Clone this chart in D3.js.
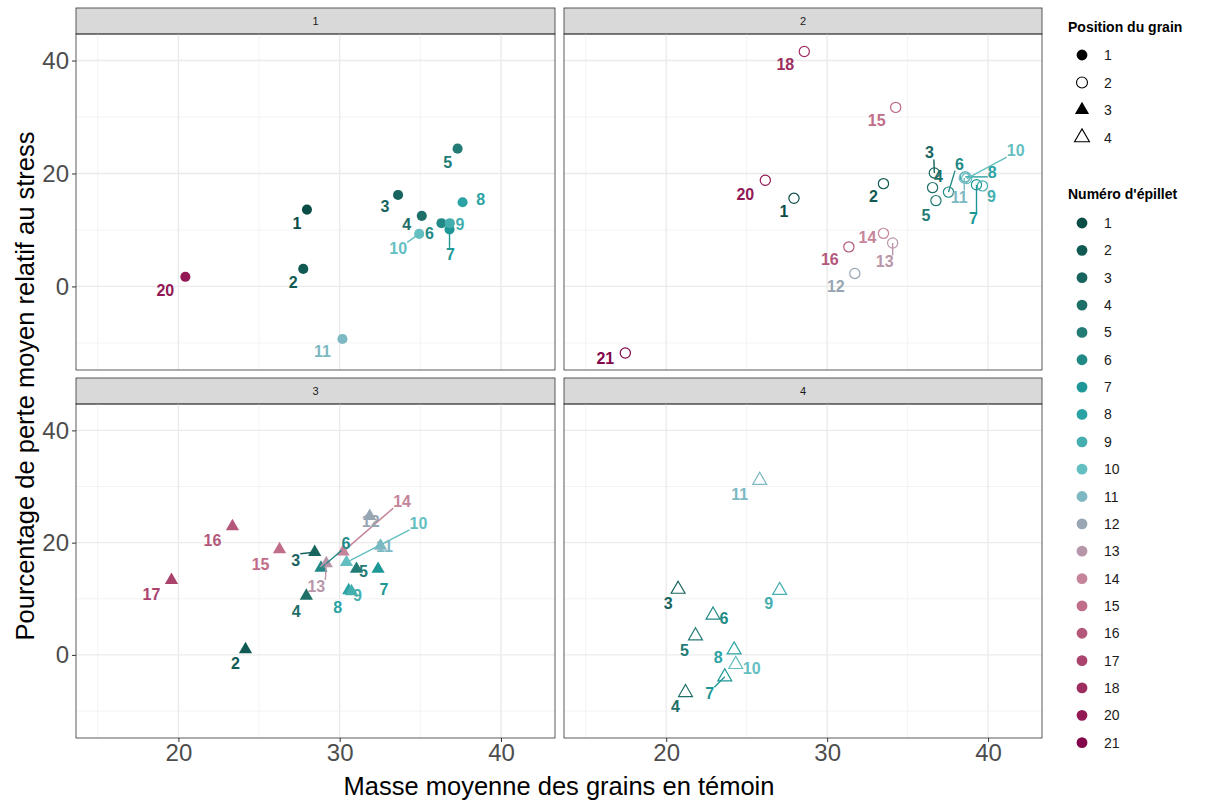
<!DOCTYPE html>
<html>
<head>
<meta charset="utf-8">
<script src="https://cdn.jsdelivr.net/npm/d3@7"></script>
<style>
  body { margin: 0; background: #fff; }
  text { font-family: "Liberation Sans", Arial, sans-serif; }
</style>
</head>
<body>
<svg id="chart" width="1205" height="800"></svg>
<script>
// ---- data ----
// grain position 1 (filled circles)
const spikelet1 = [1, 2, 3, 4, 5, 6, 7, 8, 9, 10, 11, 20]
const mass1 = [27.97, 27.74, 33.62, 35.09, 37.31, 36.31, 36.81, 37.62, 36.83, 34.93, 30.17, 20.43]
const loss1 = [13.6, 3.1, 16.2, 12.5, 24.4, 11.2, 10.1, 14.9, 11.2, 9.3, -9.3, 1.7]

// grain position 2 (open circles)
const spikelet2 = [1, 2, 3, 4, 5, 6, 7, 8, 9, 10, 11, 12, 13, 14, 15, 16, 18, 20, 21]
const mass2 = [27.94, 33.50, 36.66, 36.55, 36.76, 37.54, 39.28, 38.58, 39.65, 38.67, 38.52, 31.72, 34.07, 33.50, 34.26, 31.35, 28.58, 26.16, 17.46]
const loss2 = [15.6, 18.2, 20.1, 17.5, 15.2, 16.7, 18.0, 19.4, 17.8, 19.1, 19.2, 2.3, 7.7, 9.4, 31.7, 7.0, 41.6, 18.8, -11.8]

// grain position 3 (filled triangles)
const spikelet3 = [2, 3, 4, 5, 6, 7, 8, 9, 10, 11, 12, 13, 14, 15, 16, 17]
const mass3 = [24.16, 28.45, 27.93, 31.04, 28.84, 32.38, 30.56, 30.73, 30.42, 32.53, 31.86, 29.17, 30.21, 26.27, 23.35, 19.57]
const loss3 = [1.0, 18.3, 10.5, 15.3, 15.5, 15.3, 11.5, 11.3, 16.5, 19.4, 24.7, 16.3, 18.4, 18.8, 22.9, 13.3]

// grain position 4 (open triangles)
const spikelet4 = [3, 4, 5, 6, 7, 8, 9, 10, 11]
const mass4 = [20.74, 21.20, 21.82, 22.91, 23.64, 24.22, 27.05, 24.32, 25.81]
const loss4 = [11.7, -6.7, 3.4, 7.1, -3.9, 0.9, 11.5, -1.7, 31.1]

const positions = [1, 2, 3, 4]
const spikeletLevels = [1, 2, 3, 4, 5, 6, 7, 8, 9, 10, 11, 12, 13, 14, 15, 16, 17, 18, 20, 21]
const spikeletColors = ["#0a4d47", "#115a53", "#18645e", "#1f6f69", "#237b75", "#228a86", "#1e9896",
  "#2ba3a4", "#45afb0", "#64bfc1", "#7db8c3", "#98a5b3", "#b896a9", "#c58499", "#bf6d88",
  "#b4587b", "#aa446f", "#9e2d62", "#921955", "#83064a"]

const xTicks = [20, 30, 40]
const yTicks = [0, 20, 40]
const xMinor = [15, 25, 35]
const yMinor = [-10, 10, 30]

// label placement (pixel nudges from the point, third item = draw a segment)
const labelNudge = {
  "1-1": [-10, 14], "1-2": [-10, 14], "1-3": [-13, 12], "1-4": [-15, 9], "1-5": [-10, 14], "1-6": [-12, 10],
  "1-7": [1, 25, 1], "1-8": [18, -3], "1-9": [10, 1], "1-10": [-21, 15, 1], "1-11": [-20, 13], "1-20": [-20, 14],
  "2-1": [-10, 13], "2-2": [-10, 13], "2-3": [-5, -20, 1], "2-4": [6, -11], "2-5": [-10, 15], "2-6": [11, -28, 1],
  "2-7": [-3, 34, 1], "2-8": [27, -4, 1], "2-9": [9, 11], "2-10": [49, -28, 1], "2-11": [-5, 19, 1],
  "2-12": [-19, 13], "2-13": [-8, 19, 1], "2-14": [-16, 4], "2-15": [-19, 13], "2-16": [-19, 13],
  "2-18": [-19, 13], "2-20": [-20, 14], "2-21": [-20, 5],
  "3-2": [-10, 14], "3-3": [-19, 8, 1], "3-4": [-10, 16], "3-5": [7, 2], "3-6": [25, -24, 1], "3-7": [6, 20],
  "3-8": [-11, 17], "3-9": [6, 4], "3-10": [72, -39, 1], "3-11": [4, 0], "3-12": [1, 5], "3-13": [-10, 23, 1],
  "3-14": [59, -50, 1], "3-15": [-19, 15], "3-16": [-20, 14], "3-17": [-20, 14],
  "4-3": [-10, 14], "4-4": [-10, 14], "4-5": [-11, 15], "4-6": [11, 3], "4-7": [-15, 17, 1], "4-8": [-16, 8],
  "4-9": [-11, 13], "4-10": [16, 4], "4-11": [-20, 14]
}

// ---- build rows ----
const series = [[spikelet1, mass1, loss1], [spikelet2, mass2, loss2], [spikelet3, mass3, loss3], [spikelet4, mass4, loss4]]
const points = []
series.forEach(function(s, i){
  s[0].forEach(function(sp, j){
    points.push({pos: positions[i], spikelet: sp, mass: s[1][j], loss: s[2][j]})
  })
})

const color = d3.scaleOrdinal().domain(spikeletLevels).range(spikeletColors)

const svg = d3.select("#chart")

const panels = [
  {pos: 1, x0: 76, x1: 555, y0: 34, y1: 370, left: true, bottom: false},
  {pos: 2, x0: 564, x1: 1042, y0: 34, y1: 370, left: false, bottom: false},
  {pos: 3, x0: 76, x1: 555, y0: 404, y1: 738, left: true, bottom: true},
  {pos: 4, x0: 564, x1: 1042, y0: 404, y1: 738, left: false, bottom: true}
]
const stripH = 26

function shapePath(pos, big){
  const filled = (pos == 1 || pos == 3)
  const tri = (pos == 3 || pos == 4)
  let size = tri ? (filled ? 76 : 84) : (filled ? 80 : 82)
  if(big) size *= 1.15
  return d3.symbol().type(tri ? d3.symbolTriangle : d3.symbolCircle).size(size)()
}

panels.forEach(function(p){
  const x = d3.scaleLinear().domain([13.65, 43.35]).range([p.x0, p.x1])
  const y = d3.scaleLinear().domain([-14.8, 44.7]).range([p.y1, p.y0])
  const g = svg.append("g")

  // strip
  g.append("rect")
    .attr("x", p.x0).attr("y", p.y0 - stripH)
    .attr("width", p.x1 - p.x0).attr("height", stripH)
    .attr("fill", "#d9d9d9").attr("stroke", "#333").attr("stroke-width", 0.8)
  g.append("text")
    .attr("x", (p.x0 + p.x1) / 2).attr("y", p.y0 - stripH / 2)
    .attr("text-anchor", "middle").attr("dominant-baseline", "central")
    .attr("font-size", 11).attr("fill", "#1a1a1a")
    .text(p.pos)

  // grid
  g.selectAll(".xminor").data(xMinor).enter().append("line")
    .attr("x1", d => x(d)).attr("x2", d => x(d)).attr("y1", p.y0).attr("y2", p.y1)
    .attr("stroke", "#f2f2f2").attr("stroke-width", 0.9)
  g.selectAll(".yminor").data(yMinor).enter().append("line")
    .attr("y1", d => y(d)).attr("y2", d => y(d)).attr("x1", p.x0).attr("x2", p.x1)
    .attr("stroke", "#f2f2f2").attr("stroke-width", 0.9)
  g.selectAll(".xmajor").data(xTicks).enter().append("line")
    .attr("x1", d => x(d)).attr("x2", d => x(d)).attr("y1", p.y0).attr("y2", p.y1)
    .attr("stroke", "#ebebeb").attr("stroke-width", 1.4)
  g.selectAll(".ymajor").data(yTicks).enter().append("line")
    .attr("y1", d => y(d)).attr("y2", d => y(d)).attr("x1", p.x0).attr("x2", p.x1)
    .attr("stroke", "#ebebeb").attr("stroke-width", 1.4)

  // points
  const pts = points.filter(d => d.pos == p.pos)
  const filled = (p.pos == 1 || p.pos == 3)
  g.selectAll(".pt").data(pts).enter().append("path")
    .attr("d", shapePath(p.pos))
    .attr("transform", d => "translate(" + x(d.mass) + "," + y(d.loss) + ")")
    .attr("fill", d => filled ? color(d.spikelet) : "none")
    .attr("stroke", d => filled ? "none" : color(d.spikelet))
    .attr("stroke-width", 1.2)

  // labels + segments
  const segG = g.append("g")
  const lab = g.selectAll(".lab").data(pts).enter().append("text")
    .attr("x", d => x(d.mass) + labelNudge[p.pos + "-" + d.spikelet][0])
    .attr("y", d => y(d.loss) + labelNudge[p.pos + "-" + d.spikelet][1])
    .attr("text-anchor", "middle").attr("dominant-baseline", "central")
    .attr("font-size", 16).attr("font-weight", "bold")
    .attr("fill", d => color(d.spikelet))
    .text(d => d.spikelet)
  lab.each(function(d){
    const n = labelNudge[p.pos + "-" + d.spikelet]
    if(!n[2]) return
    const b = this.getBBox()
    const px = x(d.mass), py = y(d.loss)
    const ex = Math.max(b.x, Math.min(px, b.x + b.width))
    const ey = Math.max(b.y + 2, Math.min(py, b.y + b.height - 2))
    segG.append("line")
      .attr("x1", px).attr("y1", py).attr("x2", ex).attr("y2", ey)
      .attr("stroke", color(d.spikelet)).attr("stroke-width", 1.4)
  })

  // border
  g.append("rect")
    .attr("x", p.x0).attr("y", p.y0)
    .attr("width", p.x1 - p.x0).attr("height", p.y1 - p.y0)
    .attr("fill", "none").attr("stroke", "#333").attr("stroke-width", 0.8)

  // axes
  if(p.left){
    const ax = g.append("g").attr("transform", "translate(" + p.x0 + ",0)")
      .call(d3.axisLeft(y).tickValues(yTicks).tickSize(4).tickPadding(3))
    ax.select(".domain").remove()
    ax.selectAll("line").attr("stroke", "#333")
    ax.selectAll("text").attr("font-size", 24).attr("fill", "#4d4d4d")
      .attr("font-family", "Liberation Sans, Arial, sans-serif")
  }
  if(p.bottom){
    const ax = g.append("g").attr("transform", "translate(0," + p.y1 + ")")
      .call(d3.axisBottom(x).tickValues(xTicks).tickSize(4).tickPadding(2))
    ax.select(".domain").remove()
    ax.selectAll("line").attr("stroke", "#333")
    ax.selectAll("text").attr("font-size", 24).attr("fill", "#4d4d4d")
      .attr("font-family", "Liberation Sans, Arial, sans-serif")
  }
})

// axis titles
svg.append("text")
  .attr("x", 559).attr("y", 786)
  .attr("text-anchor", "middle").attr("dominant-baseline", "central")
  .attr("font-size", 25.5).attr("fill", "#000")
  .text("Masse moyenne des grains en témoin")
svg.append("text")
  .attr("transform", "translate(25,386) rotate(-90)")
  .attr("text-anchor", "middle").attr("dominant-baseline", "central")
  .attr("font-size", 25.5).attr("fill", "#000")
  .text("Pourcentage de perte moyen relatif au stress")

// legends
const leg = svg.append("g")
leg.append("text")
  .attr("x", 1068).attr("y", 27).attr("dominant-baseline", "central")
  .attr("font-size", 14).attr("font-weight", "bold")
  .text("Position du grain")
positions.forEach(function(pos, i){
  const yy = 55 + i * 27.5
  const filled = (pos == 1 || pos == 3)
  leg.append("path")
    .attr("d", shapePath(pos, true))
    .attr("transform", "translate(1082," + yy + ")")
    .attr("fill", filled ? "#000" : "none")
    .attr("stroke", filled ? "none" : "#000")
    .attr("stroke-width", 1.1)
  leg.append("text")
    .attr("x", 1104).attr("y", yy).attr("dominant-baseline", "central")
    .attr("font-size", 14).attr("fill", "#1a1a1a")
    .text(pos)
})

leg.append("text")
  .attr("x", 1068).attr("y", 194).attr("dominant-baseline", "central")
  .attr("font-size", 14).attr("font-weight", "bold")
  .text("Numéro d'épillet")
spikeletLevels.forEach(function(sp, i){
  const yy = 223 + i * 27.35
  leg.append("path")
    .attr("d", shapePath(1, true))
    .attr("transform", "translate(1082," + yy + ")")
    .attr("fill", color(sp))
  leg.append("text")
    .attr("x", 1104).attr("y", yy).attr("dominant-baseline", "central")
    .attr("font-size", 14).attr("fill", "#1a1a1a")
    .text(sp)
})
</script>
</body>
</html>
